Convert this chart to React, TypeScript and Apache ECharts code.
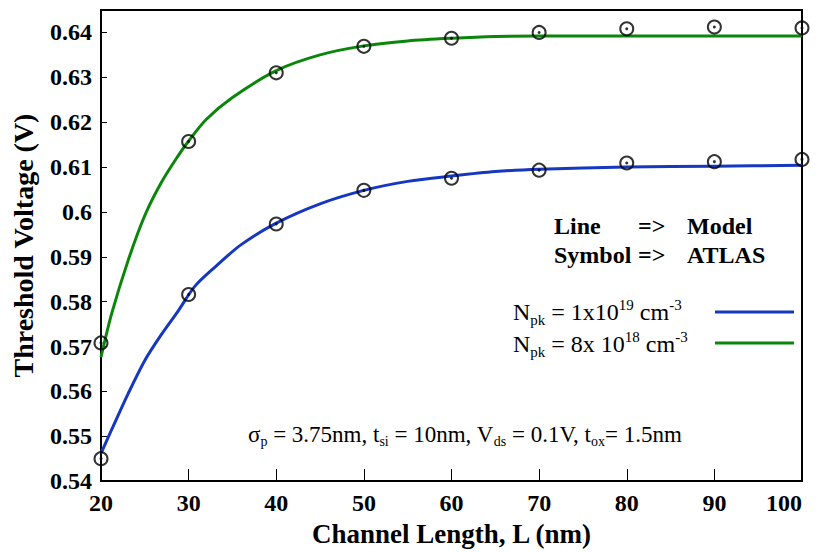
import React, { useEffect, useRef } from "react";
import * as echarts from "echarts";

// Channel length (nm) for ATLAS simulation symbols
const atlasL = [20, 30, 40, 50, 60, 70, 80, 90, 100];
// ATLAS threshold voltage (V)
const atlasHigh = [0.5450, 0.5816, 0.5973, 0.6048, 0.6075, 0.6093, 0.6109, 0.6112, 0.6117]; // Npk = 1e19
const atlasLow = [0.5708, 0.6157, 0.6310, 0.6369, 0.6387, 0.6400, 0.6408, 0.6412, 0.6410]; // Npk = 8e18

// Model curves (Npk = 1e19 -> High, Npk = 8e18 -> Low)
const modelLHigh = [20, 21.2, 23.1, 25, 26.9, 28.8, 30.7, 33, 36, 40, 45, 50, 55, 60, 65, 70, 80, 90, 100];
const modelHigh = [0.5462, 0.5514, 0.5595, 0.5669, 0.5727, 0.5779, 0.5834, 0.5877, 0.5927, 0.5975, 0.6018, 0.6048, 0.6068, 0.6080, 0.6090, 0.6095, 0.6100, 0.6102, 0.6104];
const modelLLow = [20, 21.2, 23.1, 25, 26.9, 28.8, 30, 32, 35, 40, 45, 50, 55, 60, 65, 70, 80, 90, 100];
const modelLow = [0.5676, 0.5772, 0.5892, 0.5992, 0.6066, 0.6125, 0.6158, 0.6206, 0.6255, 0.6315, 0.6350, 0.6370, 0.6381, 0.6387, 0.6391, 0.6392, 0.6392, 0.6392, 0.6392];

const BLUE = "#1638c0";
const GREEN = "#0a860a";
const FONT = "Liberation Serif";

export default function App() {
  const ref = useRef<HTMLDivElement>(null);
  useEffect(() => {
    if (!ref.current) return;
    const chart = echarts.init(ref.current, null, { renderer: "svg" });
    const pair = (xs: number[], ys: number[]) => xs.map((x, i) => [x, ys[i]]);
    const ring = {
      type: "scatter",
      symbol: "circle",
      symbolSize: 13,
      itemStyle: { color: "rgba(0,0,0,0)", borderColor: "#000", borderWidth: 2 },
      z: 5,
    };
    const dot = { type: "scatter", symbol: "circle", symbolSize: 3, itemStyle: { color: "#000" }, z: 6 };
    const rich = {
      n: { fontSize: 24, fontFamily: FONT, color: "#000", lineHeight: 30, verticalAlign: "middle" },
      sub: { fontSize: 15, fontFamily: FONT, color: "#000", lineHeight: 30, verticalAlign: "bottom" },
      sup: { fontSize: 15, fontFamily: FONT, color: "#000", lineHeight: 30, verticalAlign: "top" },
    };
    const richA = {
      n: { fontSize: 23, fontFamily: FONT, color: "#000", lineHeight: 28, verticalAlign: "middle" },
      sub: { fontSize: 14, fontFamily: FONT, color: "#000", lineHeight: 28, verticalAlign: "bottom" },
    };
    const bold = { fontSize: 24, fontWeight: "bold", fontFamily: FONT, fill: "#000", textVerticalAlign: "middle" };
    const axisText = { fontWeight: "bold" as const, fontFamily: FONT, color: "#000" };
    chart.setOption({
      animation: false,
      textStyle: { fontFamily: FONT, color: "#000" },
      grid: { left: 101, right: 25, top: 10, bottom: 67, show: true, borderColor: "#000", borderWidth: 2 },
      xAxis: {
        type: "value",
        min: 20,
        max: 100,
        interval: 10,
        name: "Channel Length, L (nm)",
        nameLocation: "middle",
        nameGap: 37,
        nameTextStyle: { ...axisText, fontSize: 27 },
        axisLine: { lineStyle: { color: "#000", width: 2 } },
        axisTick: { inside: true, length: 12, lineStyle: { color: "#000", width: 1 } },
        axisLabel: { ...axisText, fontSize: 24, margin: 10, alignMaxLabel: "right" },
        splitLine: { show: false },
      },
      yAxis: {
        type: "value",
        min: 0.54,
        max: 0.645,
        interval: 0.01,
        name: "Threshold Voltage (V)",
        nameLocation: "middle",
        nameGap: 64,
        nameTextStyle: { ...axisText, fontSize: 28 },
        axisLine: { lineStyle: { color: "#000", width: 2 } },
        axisTick: { inside: true, length: 6, lineStyle: { color: "#000", width: 1 } },
        axisLabel: { ...axisText, fontSize: 24, margin: 9, showMaxLabel: false },
        splitLine: { show: false },
      },
      series: [
        { type: "line", data: pair(modelLLow, modelLow), smooth: 0.3, showSymbol: false, lineStyle: { color: GREEN, width: 3 }, z: 3 },
        { type: "line", data: pair(modelLHigh, modelHigh), smooth: 0.3, showSymbol: false, lineStyle: { color: BLUE, width: 3 }, z: 3 },
        { ...ring, data: pair(atlasL, atlasLow) },
        { ...ring, data: pair(atlasL, atlasHigh) },
        { ...dot, data: pair(atlasL, atlasLow) },
        { ...dot, data: pair(atlasL, atlasHigh) },
      ],
      graphic: [
        { type: "text", left: 554, top: 214, style: { ...bold, text: "Line" } },
        { type: "text", left: 638, top: 214, style: { ...bold, text: "=>" } },
        { type: "text", left: 687, top: 214, style: { ...bold, text: "Model" } },
        { type: "text", left: 554, top: 243, style: { ...bold, text: "Symbol" } },
        { type: "text", left: 638, top: 243, style: { ...bold, text: "=>" } },
        { type: "text", left: 687, top: 243, style: { ...bold, text: "ATLAS" } },
        {
          type: "text",
          left: 513,
          top: 297,
          style: { text: "{n|N}{sub|pk}{n| = 1x10}{sup|19}{n| cm}{sup|-3}", rich, fill: "#000" },
        },
        {
          type: "text",
          left: 513,
          top: 329,
          style: { text: "{n|N}{sub|pk}{n| = 8x 10}{sup|18}{n| cm}{sup|-3}", rich, fill: "#000" },
        },
        { type: "line", shape: { x1: 715, y1: 312, x2: 794, y2: 312 }, style: { stroke: BLUE, lineWidth: 3 } },
        { type: "line", shape: { x1: 715, y1: 343, x2: 794, y2: 343 }, style: { stroke: GREEN, lineWidth: 3 } },
        {
          type: "text",
          left: 248,
          top: 423,
          style: {
            text: "{n|σ}{sub|p}{n| = 3.75nm, t}{sub|si}{n| = 10nm, V}{sub|ds}{n| = 0.1V, t}{sub|ox}{n|= 1.5nm}",
            rich: richA,
            fill: "#000",
          },
        },
      ],
    });
    return () => chart.dispose();
  }, []);
  return <div ref={ref} style={{ position: "fixed", left: 0, top: 0, width: 827, height: 552, background: "#fff" }} />;
}
